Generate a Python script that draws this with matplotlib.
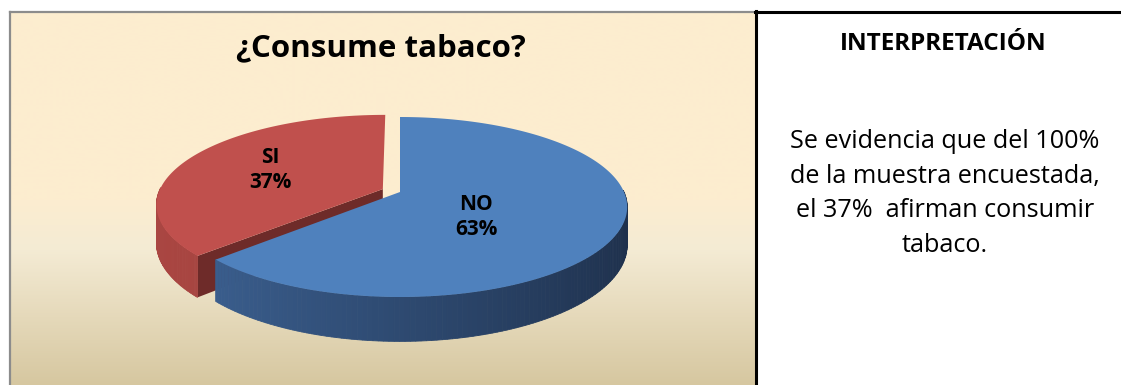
import numpy as np
import matplotlib
matplotlib.use("Agg")
import matplotlib.pyplot as plt
from matplotlib.patches import Polygon

# ---- data ----
categories = ["NO", "SI"]
percentages = [63, 37]
title = "¿Consume tabaco?"
side_title = "INTERPRETACIÓN"
side_lines = ["Se evidencia que del 100%", "de la muestra encuestada,",
              "el 37%  afirman consumir", "tabaco."]

FONT = "Open Sans"
W, H = 1121, 385
fig = plt.figure(figsize=(W / 100, H / 100), dpi=100)
ax = fig.add_axes([0, 0, 1, 1])
ax.set_xlim(0, W)
ax.set_ylim(H, 0)
ax.axis("off")

# ---- background gradient of the chart cell ----
stops_y = np.array([12, 200, 250, 385])
stops_c = np.array([[253, 237, 207], [252, 237, 208], [244, 235, 212], [214, 199, 160]]) / 255
ys = np.arange(12, 386)
grad = np.stack([np.interp(ys, stops_y, stops_c[:, k]) for k in range(3)], axis=-1)[:, None, :]
ax.imshow(grad, extent=[10, 755, 385, 12], aspect="auto", zorder=0, interpolation="bilinear")

# ---- table / frame lines ----
ax.plot([9.5, 755], [12, 12], color="#8c8c8c", lw=1.6, zorder=5)
ax.plot([9.5, 9.5], [12, 385], color="#8c8c8c", lw=1.6, zorder=5)
ax.plot([755, W], [12, 12], color="black", lw=2.2, zorder=5)
ax.plot([755.5, 755.5], [11, 385], color="black", lw=2.2, zorder=5)

# ---- 3D pie with perspective ----
cx, cy, rx, a, b, depth = 400.0, 192.0, 224.0, 87.5, 1 / 6, 37.0


def proj(u, w, z=0.0):
    v = -np.asarray(w)
    s = 1.0 / (1.0 - b * v)
    return cx + rx * np.asarray(u) * s, cy + a * v * s + z * depth * s


colors_top = {"NO": "#4F81BD", "SI": "#C0504D"}
side_dark = {"NO": (np.array([62, 100, 150]), np.array([30, 48, 76])),
             "SI": (np.array([170, 70, 66]), np.array([150, 60, 57]))}
cut_col = {"SI": "#6E2B29", "NO": "#2B4A73"}

total = float(sum(percentages))
# NO starts at 12 o'clock going clockwise; SI takes the rest
start = 90.0
slices = []
for cat, p in zip(categories, percentages):
    sweep = 360.0 * p / total
    slices.append((cat, start - sweep, start))  # ccw from t0 to t1
    start -= sweep

explode = {"NO": 0.0, "SI": 0.084}


def draw_slice(cat, t0, t1, zbase):
    mid = np.radians((t0 + t1) / 2)
    ox, ow = explode[cat] * np.cos(mid), explode[cat] * np.sin(mid)
    th = np.radians(np.linspace(t0, t1, 200))
    u, w = ox + np.cos(th), ow + np.sin(th)
    # cut faces (edges from center to rim)
    for t, sign in ((t0, -1), (t1, 1)):
        nrm = np.radians(t + sign * 90)
        if -np.sin(nrm) > 0.05:  # facing viewer (front)
            eu, ew = ox + np.cos(np.radians(t)), ow + np.sin(np.radians(t))
            pts = [proj(ox, ow, 0), proj(eu, ew, 0), proj(eu, ew, 1), proj(ox, ow, 1)]
            ax.add_patch(Polygon([(float(x), float(y)) for x, y in pts], closed=True,
                                 fc=cut_col[cat], ec="none", zorder=zbase))
    # outer side face (front part)
    c0, c1 = side_dark[cat]
    for i in range(len(th) - 1):
        tm = (th[i] + th[i + 1]) / 2
        if np.sin(tm) >= 0.02:
            continue
        uu = np.array([u[i], u[i + 1]])
        ww = np.array([w[i], w[i + 1]])
        xt, yt = proj(uu, ww, 0)
        xb, yb = proj(uu, ww, 1)
        frac = np.clip((np.cos(tm) + 1) / 2, 0, 1)
        col = (c0 + (c1 - c0) * frac) / 255
        ax.add_patch(Polygon([(xt[0], yt[0]), (xt[1], yt[1]), (xb[1], yb[1]), (xb[0], yb[0])],
                             closed=True, fc=col, ec=col, lw=0.6, zorder=zbase + 0.1))
    # top face
    xt, yt = proj(np.concatenate([[ox], u]), np.concatenate([[ow], w]), 0)
    ax.add_patch(Polygon(np.column_stack([xt, yt]), closed=True, fc=colors_top[cat],
                         ec="none", zorder=zbase + 0.2))


order = {"SI": 1, "NO": 2}
for cat, t0, t1 in slices:
    draw_slice(cat, t0, t1, order[cat])

# labels
lab_kw = dict(ha="center", va="baseline", fontsize=15, fontweight="bold",
              family=FONT, color="black", zorder=6)
ax.text(270, 163, "SI", **lab_kw)
ax.text(270, 188, f"{percentages[1]}%", **lab_kw)
ax.text(476, 210, "NO", **lab_kw)
ax.text(476, 235, f"{percentages[0]}%", **lab_kw)

# title
ax.text(381, 56, title, ha="center", va="baseline", fontsize=22.5, fontweight="bold",
        family=FONT, color="black", zorder=6)

# right cell
ax.text(943, 50, side_title, ha="center", va="baseline", fontsize=17.5, fontweight="bold",
        family=FONT, color="black", zorder=6)
for i, line in enumerate(side_lines):
    ax.text(945, 148 + 34.5 * i, line, ha="center", va="baseline", fontsize=18.2,
            family=FONT, color="black", zorder=6)

fig.savefig("out.png", dpi=100)
